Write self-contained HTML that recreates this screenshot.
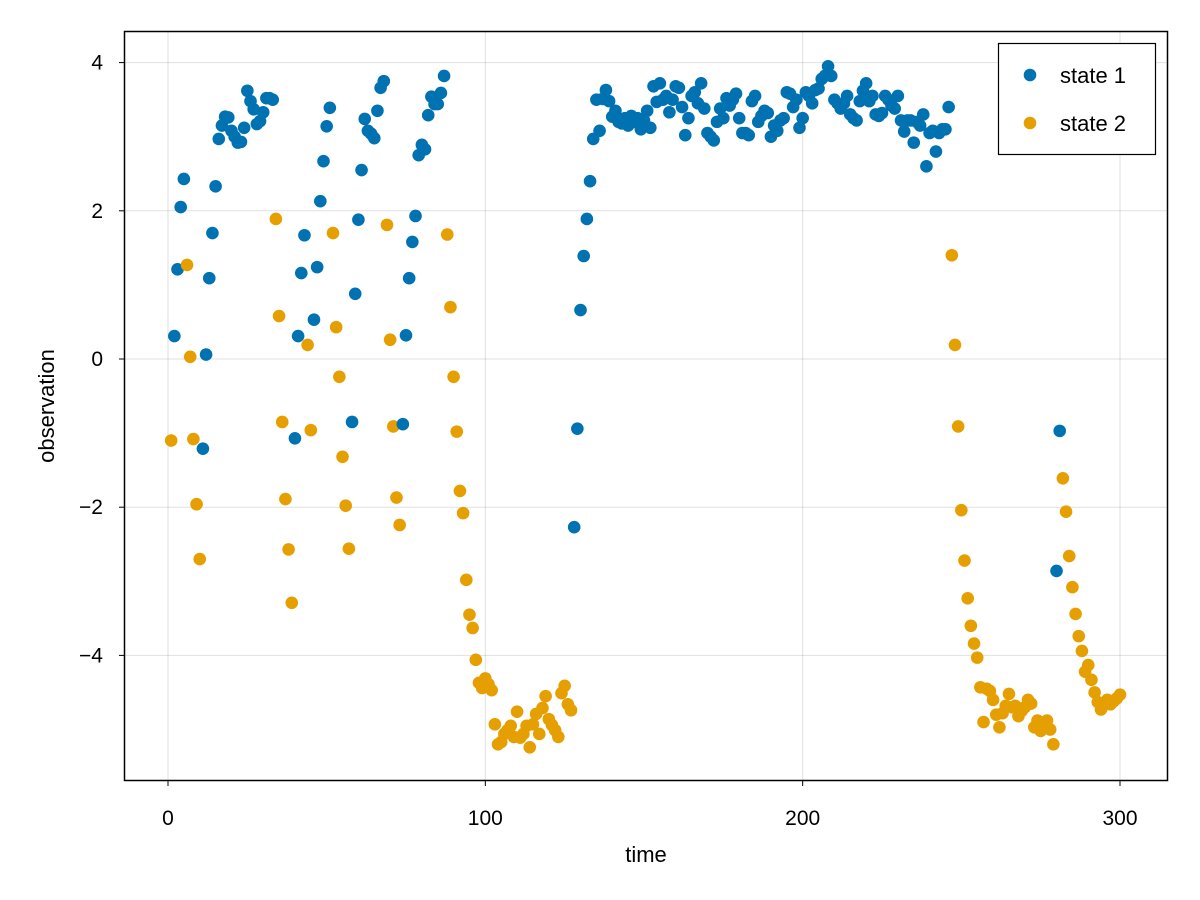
<!DOCTYPE html>
<html><head><meta charset="utf-8"><style>
html,body{margin:0;padding:0;background:#fff;}
svg{display:block;font-family:"Liberation Sans",sans-serif;}
</style></head><body>
<svg id="chart" width="1200" height="900"></svg>
<script>
const xTicks=[0,100,200,300];
const yTicks=[4,2,0,-2,-4];
const seriesNames=["state 1","state 2"];
const observations=[
-1.1,0.31,1.21,2.05,2.43,1.27,0.03,-1.08,-1.96,-2.70,
-1.21,0.06,1.09,1.7,2.33,2.97,3.15,3.27,3.26,3.08,
3.0,2.92,2.93,3.12,3.62,3.48,3.37,3.17,3.21,3.33,
3.52,3.52,3.5,1.89,0.58,-0.85,-1.89,-2.57,-3.29,-1.07,
0.31,1.16,1.67,0.19,-0.96,0.53,1.24,2.13,2.67,3.14,
3.39,1.7,0.43,-0.24,-1.32,-1.98,-2.56,-0.85,0.88,1.88,
2.55,3.24,3.08,3.04,2.98,3.35,3.66,3.75,1.81,0.26,
-0.91,-1.87,-2.24,-0.88,0.32,1.09,1.58,1.93,2.75,2.89,
2.83,3.29,3.54,3.44,3.44,3.59,3.82,1.68,0.7,-0.24,
-0.98,-1.78,-2.08,-2.98,-3.45,-3.63,-4.06,-4.37,-4.44,-4.31,
-4.39,-4.47,-4.93,-5.2,-5.17,-5.06,-5.01,-4.95,-5.1,-4.76,
-5.11,-5.06,-4.95,-5.24,-4.93,-4.79,-5.06,-4.71,-4.55,-4.86,
-4.94,-5.01,-5.1,-4.51,-4.41,-4.66,-4.74,-2.27,-0.94,0.66,
1.39,1.89,2.4,2.97,3.5,3.08,3.51,3.63,3.48,3.27,
3.35,3.2,3.18,3.25,3.15,3.28,3.2,3.25,3.1,3.22,
3.35,3.12,3.68,3.47,3.72,3.5,3.55,3.33,3.5,3.68,
3.66,3.4,3.02,3.25,3.55,3.6,3.45,3.72,3.38,3.05,
3.0,2.95,3.2,3.38,3.25,3.52,3.42,3.5,3.58,3.25,
3.05,3.05,3.02,3.48,3.55,3.2,3.28,3.35,3.32,3.0,
3.15,3.08,3.22,3.25,3.6,3.58,3.4,3.5,3.12,3.25,
3.6,3.55,3.45,3.63,3.65,3.78,3.82,3.95,3.82,3.5,
3.45,3.38,3.45,3.55,3.3,3.25,3.22,3.48,3.62,3.72,
3.48,3.55,3.3,3.28,3.32,3.55,3.5,3.42,3.38,3.55,
3.22,3.07,3.22,3.22,2.92,3.2,3.15,3.3,2.6,3.05,
3.08,2.8,3.05,3.1,3.1,3.4,
1.4,0.19,-0.91,-2.04,-2.72,-3.23,-3.6,-3.84,-4.03,-4.43,
-4.9,-4.45,-4.48,-4.6,-4.8,-4.97,-4.78,-4.68,-4.52,-4.7,
-4.68,-4.82,-4.75,-4.7,-4.6,-4.65,-4.97,-4.88,-5.02,-4.95,
-4.88,-5.0,-5.2,
-2.86,-0.97,
-1.61,-2.06,-2.66,-3.08,-3.44,-3.74,-3.94,-4.22,-4.13,-4.33,
-4.5,-4.63,-4.73,-4.67,-4.6,-4.66,-4.62,-4.58,-4.53
];
// run-length encoded state labels: [count, state]
const stateRuns=[[1,2],[4,1],[5,2],[23,1],[6,2],[4,1],[2,2],[6,1],[6,2],[11,1],[5,2],[14,1],[40,2],[119,1],[33,2],[2,1],[19,2]];

const NS="http://www.w3.org/2000/svg";
const svg=document.getElementById('chart');
const L=124,T=31,R=1168,B=781;
const xS=v=>168+(v-0)*(1120-168)/300;
const yS=v=>359-v*74.1;
const colors=["#0072b2","#e69f00"];
function mk(tag,attrs,parent){const e=document.createElementNS(NS,tag);for(const k in attrs)e.setAttribute(k,attrs[k]);(parent||svg).appendChild(e);return e;}

const states=[];
stateRuns.forEach(r=>{for(let i=0;i<r[0];i++)states.push(r[1]);});

const grid=mk('g',{});


xTicks.forEach(t=>{const l=mk('line',{x1:xS(t),x2:xS(t),y1:T,y2:B,stroke:'#000','stroke-opacity':0.12,'stroke-width':1},grid);

});
yTicks.forEach(t=>{const l=mk('line',{x1:L,x2:R,y1:yS(t),y2:yS(t),stroke:'#000','stroke-opacity':0.12,'stroke-width':1},grid);

});

const pts=mk('g',{});


observations.forEach((v,i)=>{const s=states[i]||1;
const c=mk('circle',{cx:xS(i+1),cy:yS(v),r:6.3,fill:colors[s-1]},pts);

});

const frame=mk('rect',{x:L+0.5,y:T+0.5,width:R-L-1,height:B-T-1,fill:'none',stroke:'#000','stroke-width':1.5});



xTicks.forEach(t=>{const l=mk('line',{x1:xS(t),x2:xS(t),y1:B,y2:B+5,stroke:'#000'});


const tx=mk('text',{x:xS(t),y:825,'text-anchor':'middle','font-size':21,fill:'#000'});tx.textContent=t;

});
yTicks.forEach(t=>{const l=mk('line',{x1:L-5,x2:L,y1:yS(t),y2:yS(t),stroke:'#000'});


const tx=mk('text',{x:103,y:yS(t)+7,'text-anchor':'end','font-size':21,fill:'#000'});tx.textContent=(t<0?'\u2212':'')+Math.abs(t);

});

const xt=mk('text',{x:646,y:862,'text-anchor':'middle','font-size':22,fill:'#000'});xt.textContent='time';


const yt=mk('text',{x:0,y:0,'text-anchor':'middle','font-size':22,fill:'#000',transform:'translate(54,406) rotate(-90)'});yt.textContent='observation';



const lg=mk('g',{});


const lb=mk('rect',{x:998.5,y:43.5,width:157,height:111,fill:'#fff',stroke:'#000','stroke-width':1.2},lg);


seriesNames.forEach((n,i)=>{const y=75+i*48;
const c=mk('circle',{cx:1030,cy:y,r:6.3,fill:colors[i]},lg);


const tx=mk('text',{x:1060,y:y+8,'font-size':22,fill:'#000'},lg);tx.textContent=n;

});
</script>
</body></html>
